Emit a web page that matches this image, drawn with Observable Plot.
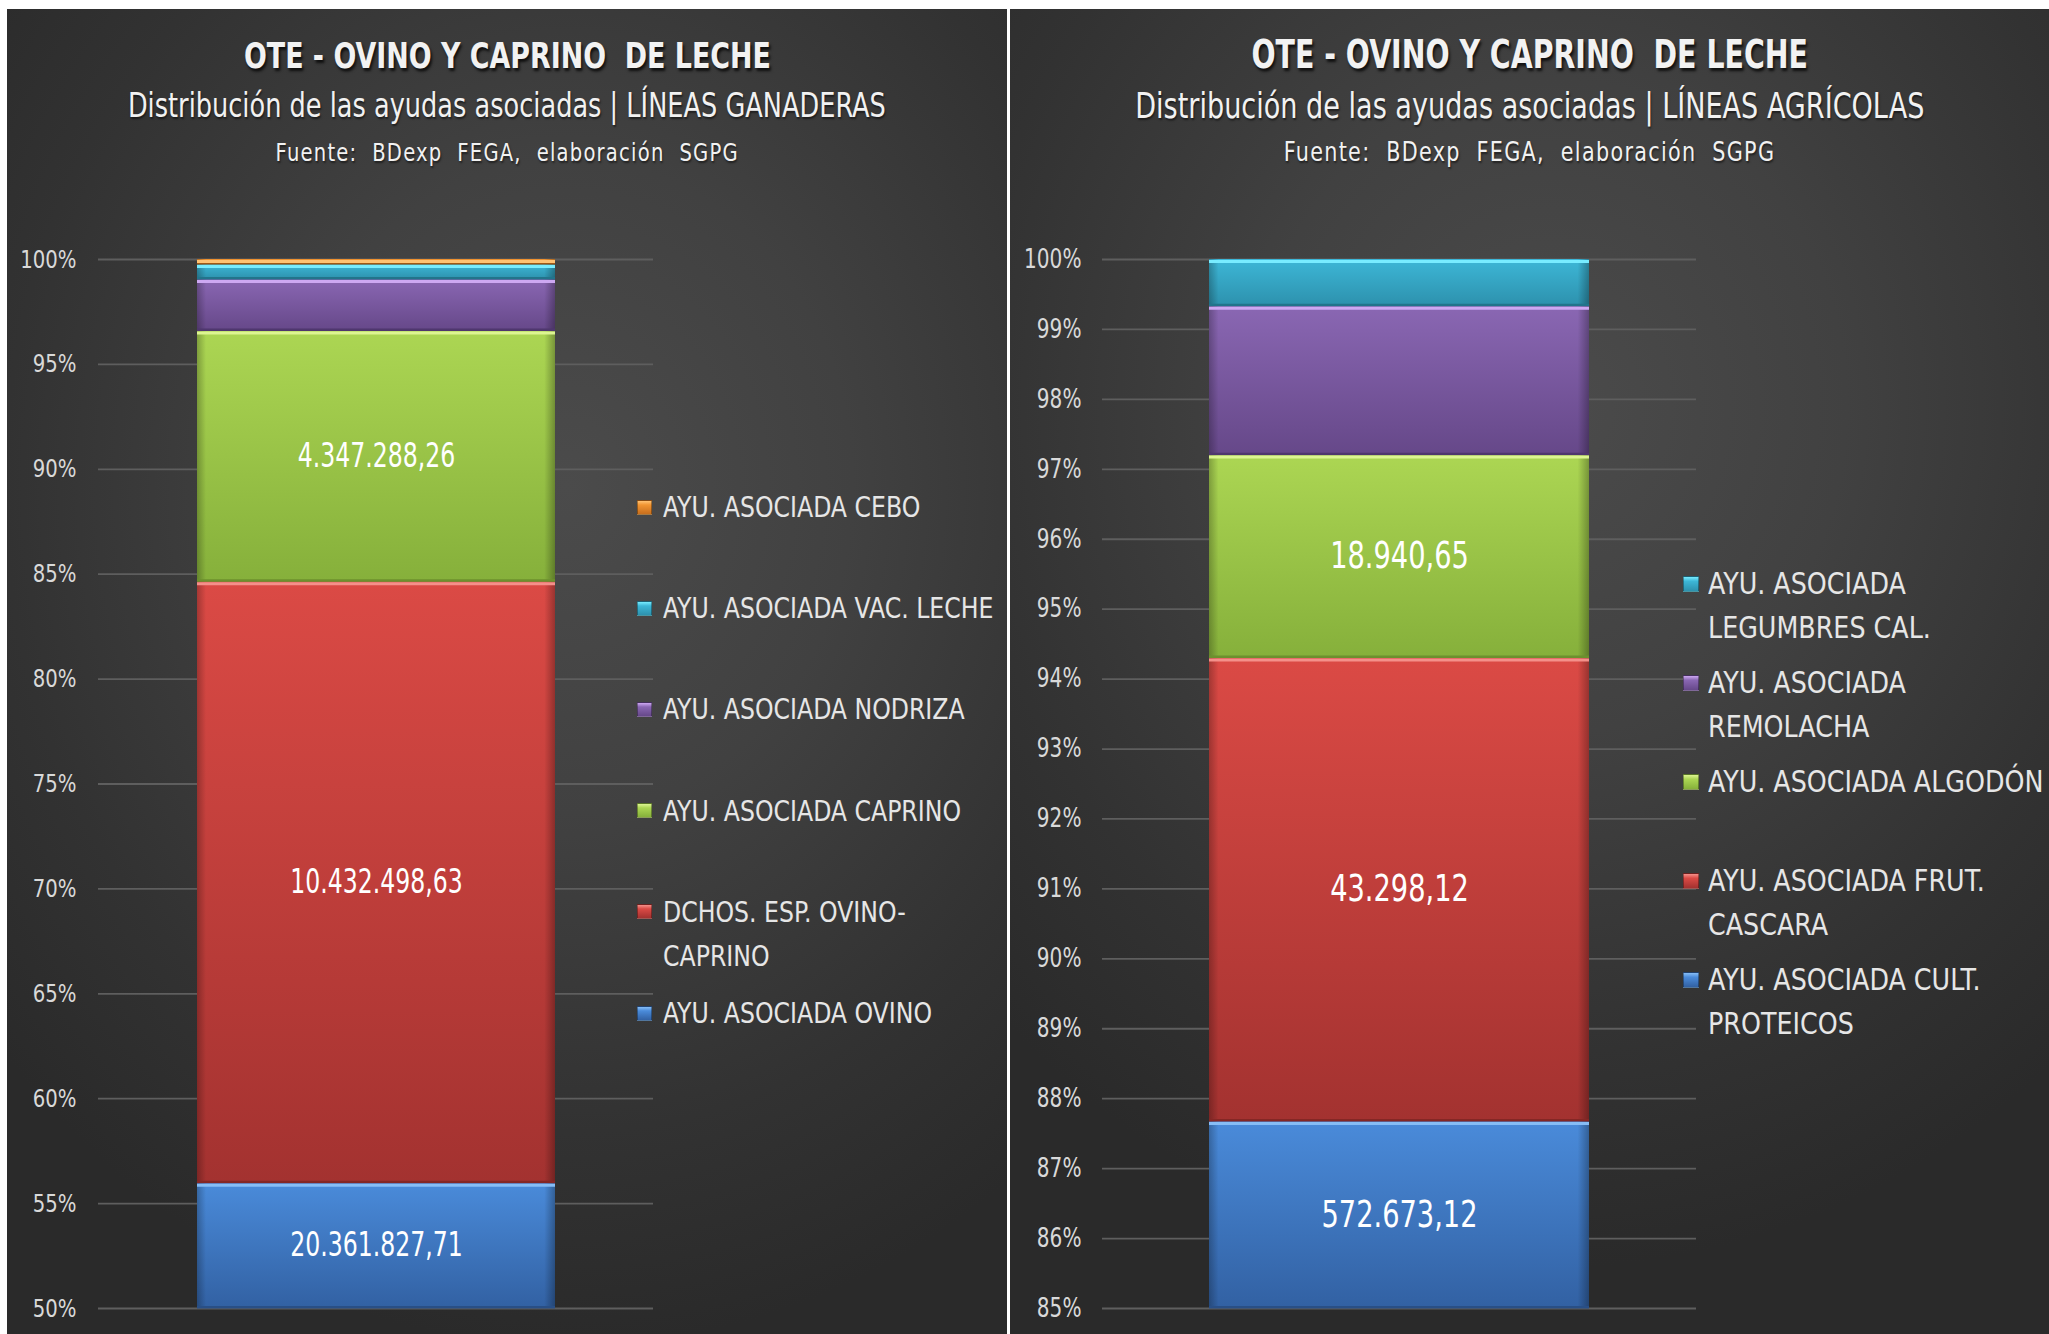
<!DOCTYPE html>
<html>
<head>
<meta charset="utf-8">
<script src="https://cdn.jsdelivr.net/npm/d3@7"></script>
<script src="https://cdn.jsdelivr.net/npm/@observablehq/plot@0.6"></script>
<style>
html,body{margin:0;padding:0;background:#ffffff;}
body{width:2049px;height:1334px;position:relative;overflow:hidden;
  font-family:"Liberation Sans Narrow","DejaVu Sans Condensed","Liberation Sans",sans-serif;}
.panel{position:absolute;top:9px;height:1325px;overflow:hidden;}
#pL{left:7px;width:1000px;
  background:radial-gradient(ellipse 75% 65% at 56% 36%, #4b4b4b 0%, #414141 38%, #323232 75%, #2a2a2a 100%);}
#pR{left:1010px;width:1039px;
  background:radial-gradient(ellipse 75% 65% at 52% 30%, #4b4b4b 0%, #414141 38%, #323232 75%, #2a2a2a 100%);}
.txt{position:absolute;left:0;width:100%;text-align:center;color:#f2f2f2;white-space:pre;}
.txt span{display:inline-block;transform-origin:50% 50%;}
.title{font-weight:bold;text-shadow:2px 3px 3px rgba(0,0,0,0.75);}
.sub{text-shadow:1px 2px 2px rgba(0,0,0,0.5);}
.src{text-shadow:1px 2px 2px rgba(0,0,0,0.5);}
.chart{position:absolute;left:0;}
.lg{position:absolute;left:0;top:0;color:#e6e6e6;}
.lg .sw{position:absolute;border:1px solid rgba(0,0,0,0.35);box-sizing:border-box;}
.lg .lb{position:absolute;white-space:normal;transform-origin:0 0;}
</style>
</head>
<body>
<svg width="0" height="0" style="position:absolute;left:0;top:0"><defs id="defs"></defs></svg>
<div id="pL" class="panel"></div>
<div id="pR" class="panel"></div>
<script>
// ---------------- DATA ----------------
const titleText = "OTE - OVINO Y CAPRINO  DE LECHE";
const subL = "Distribución de las ayudas asociadas | LÍNEAS GANADERAS";
const subR = "Distribución de las ayudas asociadas | LÍNEAS AGRÍCOLAS";
const sourceText = "Fuente:  BDexp  FEGA,  elaboración  SGPG";

// Left chart (bottom to top of the stack)
const seriesL = ["AYU. ASOCIADA OVINO", "DCHOS. ESP. OVINO-CAPRINO", "AYU. ASOCIADA CAPRINO",
                 "AYU. ASOCIADA NODRIZA", "AYU. ASOCIADA VAC. LECHE", "AYU. ASOCIADA CEBO"];
const valuesL = [20361827.71, 10432498.63, 4347288.26, 895000, 258000, 87000];
const labeledL = [true, true, true, false, false, false];
const colorsL = ["blue", "red", "green", "purple", "cyan", "orange"];
const ticksL = [0.50, 0.55, 0.60, 0.65, 0.70, 0.75, 0.80, 0.85, 0.90, 0.95, 1.00];

// Right chart (bottom to top of the stack)
const seriesR = ["AYU. ASOCIADA CULT. PROTEICOS", "AYU. ASOCIADA FRUT. CASCARA", "AYU. ASOCIADA ALGODÓN",
                 "AYU. ASOCIADA REMOLACHA", "AYU. ASOCIADA LEGUMBRES CAL."];
const valuesR = [572673.12, 43298.12, 18940.65, 13912, 4356];
const labeledR = [true, true, true, false, false];
const colorsR = ["blue", "red", "green", "purple", "cyan"];
const ticksR = [0.85, 0.86, 0.87, 0.88, 0.89, 0.90, 0.91, 0.92, 0.93, 0.94, 0.95, 0.96, 0.97, 0.98, 0.99, 1.00];

const palette = {
  blue:   {top:"#4a8bda", bot:"#3261a3", hi:"#86bdf6", lo:"#294f86"},
  red:    {top:"#db4a45", bot:"#a33230", hi:"#f4908a", lo:"#842725"},
  green:  {top:"#acd653", bot:"#86b03b", hi:"#ddf592", lo:"#6c902e"},
  purple: {top:"#8a67b3", bot:"#664889", hi:"#cda8f2", lo:"#4f376e"},
  cyan:   {top:"#3db7d7", bot:"#2d91ad", hi:"#78ecff", lo:"#22748b"},
  orange: {top:"#f29532", bot:"#c76e1d", hi:"#ffc273", lo:"#9f5816"}
};

const FONT = '"Liberation Sans Narrow","DejaVu Sans Condensed","Liberation Sans",sans-serif';
const esLocale = d3.formatLocale({decimal: ",", thousands: ".", grouping: [3], currency: ["", " €"]});
const fmt = esLocale.format(",.2f");

// ---------------- GRADIENTS ----------------
const defs = d3.select("#defs");
for (const [key, c] of Object.entries(palette)) {
  const g = defs.append("linearGradient").attr("id", "g-" + key)
    .attr("x1", 0).attr("y1", 0).attr("x2", 0).attr("y2", 1);
  g.append("stop").attr("offset", "0%").attr("stop-color", c.top);
  g.append("stop").attr("offset", "100%").attr("stop-color", c.bot);
}
const side = defs.append("linearGradient").attr("id", "g-side")
  .attr("x1", 0).attr("y1", 0).attr("x2", 1).attr("y2", 0);
[["0%", 0.25], ["2.5%", 0.0], ["97%", 0.0], ["100%", 0.3]].forEach(([o, a]) =>
  side.append("stop").attr("offset", o).attr("stop-color", "#000").attr("stop-opacity", a));

function squeeze(el, k) {
  const t = el.getAttribute("transform") || "";
  const x = +el.getAttribute("x") || 0;
  el.setAttribute("transform", `${t} translate(${x},0) scale(${k},1) translate(${-x},0)`);
}

// ---------------- BUILD PANEL ----------------
function buildPanel(o) {
  const panel = document.getElementById(o.id);
  const addText = (cls, text, size, top, k, ls) => {
    const d = document.createElement("div");
    d.className = "txt " + cls;
    d.style.fontSize = size + "px";
    d.style.lineHeight = size + "px";
    d.style.top = top + "px";
    const s = document.createElement("span");
    s.textContent = text;
    s.style.transform = `scaleX(${k})`;
    if (ls) s.style.letterSpacing = ls + "px";
    d.appendChild(s);
    panel.appendChild(d);
  };
  addText("title", titleText, o.fTitle, 46.5 - o.fTitle / 2, o.kTitle);
  addText("sub", o.sub, o.fSub, 97 - o.fSub / 2, o.kSub);
  addText("src", sourceText, o.fSrc, 143 - o.fSrc / 2, o.kSrc, o.ls);

  const total = d3.sum(o.values);
  const cum = d3.cumsum(o.values);
  const rows = o.series.map((s, i) => {
    const lo = Math.max((cum[i] - o.values[i]) / total, o.ymin);
    const hi = cum[i] / total;
    return {x: "total", series: s, key: o.colors[i], y1: lo, y2: hi, mid: (lo + hi) / 2,
            text: o.labeled[i] ? fmt(o.values[i]) : ""};
  });

  const chart = Plot.plot({
    width: o.width, height: 1125,
    marginLeft: o.ml, marginRight: o.width - o.xr, marginTop: 50, marginBottom: 26,
    style: {background: "transparent", color: "#d9d9d9", fontFamily: FONT, fontSize: o.fTick + "px", overflow: "visible"},
    x: {domain: ["total"], padding: o.pad, axis: null},
    y: {domain: [o.ymin, 1], ticks: o.ticks, tickFormat: d3.format(".0%"), tickSize: 0, tickPadding: o.tp, label: null},
    color: {type: "identity"},
    marks: [
      Plot.ruleY(o.ticks, {stroke: "#5e5e5e", strokeWidth: 1.8}),
      Plot.barY(rows, {x: "x", y1: "y1", y2: "y2", fill: d => `url(#g-${d.key})`}),
      Plot.barY(rows, {x: "x", y1: "y1", y2: "y2", fill: "url(#g-side)"}),
      Plot.tickY(rows, {x: "x", y: "y1", stroke: d => palette[d.key].lo, strokeWidth: 2.5, dy: -1.2}),
      Plot.tickY(rows, {x: "x", y: "y2", stroke: d => palette[d.key].hi, strokeWidth: 3, dy: 2}),
      Plot.text(rows.filter(d => d.text), {x: "x", y: "mid", text: "text", fill: "#ffffff", fontSize: o.fLabel})
    ]
  });
  chart.querySelectorAll("text").forEach(t => {
    const inLabel = t.closest('g[aria-label="text"]');
    squeeze(t, inLabel ? o.kLabel : o.kTick);
  });
  const wrap = document.createElement("div");
  wrap.className = "chart";
  wrap.style.top = "200px";
  wrap.appendChild(chart);
  panel.appendChild(wrap);

  // legend (top of stack first)
  const order = o.series.map((s, i) => i).reverse();
  order.forEach((i, k) => {
    const cy = o.lgY0 + k * o.lgStep;
    const c = palette[o.colors[i]];
    const g = document.createElement("div");
    g.className = "lg";
    const box = document.createElement("div");
    box.className = "sw";
    Object.assign(box.style, {left: o.swX + "px", top: (cy - o.swS / 2) + "px", width: o.swS + "px", height: o.swS + "px",
      background: `linear-gradient(to bottom, ${c.hi} 0%, ${c.top} 30%, ${c.bot} 100%)`});
    const lb = document.createElement("div");
    lb.className = "lb";
    lb.textContent = o.series[i];
    Object.assign(lb.style, {left: o.txX + "px", top: (cy - o.lh / 2) + "px", width: (o.lgW / o.kLg) + "px",
      fontSize: o.fLg + "px", lineHeight: o.lh + "px", transform: `scaleX(${o.kLg})`});
    g.appendChild(box); g.appendChild(lb);
    panel.appendChild(g);
  });
}

buildPanel({id: "pL", sub: subL, series: seriesL, values: valuesL, labeled: labeledL, colors: colorsL,
  ticks: ticksL, ymin: 0.5, width: 680, ml: 91, xr: 646, pad: 0.216, tp: 22,
  fTitle: 36, fSub: 33.5, fSrc: 25, ls: 1.4, fTick: 25, fLabel: 33,
  kTitle: 0.83, kSub: 0.85, kSrc: 0.87, kTick: 0.875, kLabel: 0.795, kLg: 0.905,
  lgY0: 498, lgStep: 101.2, swX: 630, swS: 15, txX: 656, lgW: 336, fLg: 29, lh: 44});

buildPanel({id: "pR", sub: subR, series: seriesR, values: valuesR, labeled: labeledR, colors: colorsR,
  ticks: ticksR, ymin: 0.85, width: 720, ml: 92, xr: 686, pad: 0.2195, tp: 21,
  fTitle: 38.3, fSub: 35, fSrc: 26.5, ls: 1.5, fTick: 26, fLabel: 36.5,
  kTitle: 0.824, kSub: 0.86, kSrc: 0.87, kTick: 0.86, kLabel: 0.83, kLg: 0.925,
  lgY0: 575, lgStep: 99, swX: 673, swS: 16, txX: 698, lgW: 350, fLg: 30.5, lh: 44});
</script>
</body>
</html>
